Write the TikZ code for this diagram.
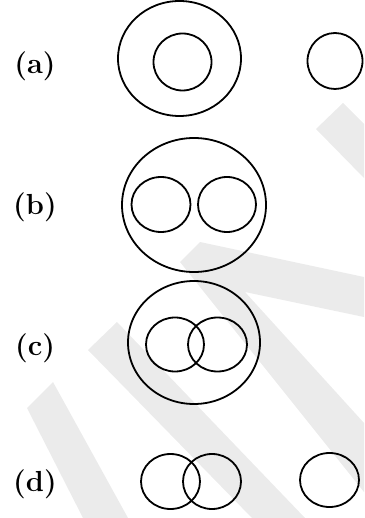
\documentclass[tikz,border=0pt]{standalone}
\usepackage{fontspec}
\usetikzlibrary{shapes.geometric}
\definecolor{wm}{RGB}{235,235,235}
\tikzset{
  ring/.style={draw=black, line width=1.8pt, shape=ellipse, inner sep=0pt, fill=none},
  lbl/.style={font=\fontsize{29}{29}\selectfont\bfseries, inner sep=0pt},
  wmark/.style={fill=wm, draw=none}
}
\newcommand{\ringat}[5]{\node[ring, minimum width=#3pt, minimum height=#4pt] (#5) at (#1,#2) {};}
\begin{document}
\begin{tikzpicture}[x=1pt,y=-1pt]
\useasboundingbox (0,0) rectangle (364,518);
% watermark stripes
\fill[wmark] (27,408) -- (53,382) -- (128,518) -- (83,518) -- cycle;
\fill[wmark] (88,350) -- (117,322) -- (305,518) -- (252,518) -- cycle;
\fill[wmark] (180,262) -- (200,242) -- (364,277) -- (364,317) -- (245,292) -- (364,423) -- (364,492) -- cycle;
\fill[wmark] (316,129) -- (343,103) -- (364,124) -- (364,178) -- cycle;
% (a)
\ringat{179.5}{58.5}{123}{115}{aout}
\ringat{182.5}{62}{58}{57}{ain}
\ringat{335}{61}{55}{56}{aside}
% (b)
\ringat{194}{205}{144}{134}{bout}
\ringat{161}{204.5}{59}{55}{bleft}
\ringat{227}{204.5}{58}{55}{bright}
% (c)
\ringat{194}{342.5}{132}{123}{cout}
\ringat{175}{344.5}{58}{54}{cleft}
\ringat{217.5}{344.5}{59}{54}{cright}
% (d)
\ringat{170.5}{481.5}{59}{55}{dleft}
\ringat{212}{481.5}{58}{55}{dright}
\ringat{329.5}{480}{59}{54}{dside}
% labels
\node[lbl] (la) at (35,66) {(a)};
\node[lbl] (lb) at (35,207) {(b)};
\node[lbl] (lc) at (35,348) {(c)};
\node[lbl] (ld) at (35,484) {(d)};
\end{tikzpicture}
\end{document}
